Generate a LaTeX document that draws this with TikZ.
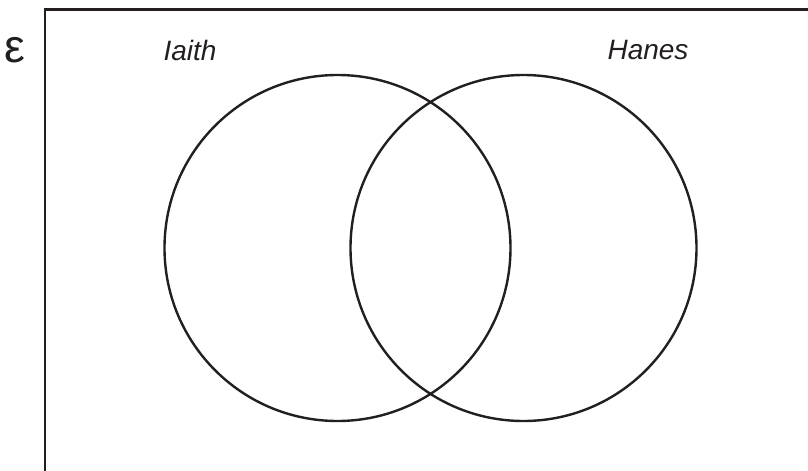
\documentclass[tikz,border=0pt]{standalone}
\usepackage{fontspec}
\setmainfont{Liberation Sans}
\usepackage{tikz}
\usepackage{xcolor}
\definecolor{ink}{HTML}{231F20}

\begin{document}
\begin{tikzpicture}[x=0.75pt,y=-0.75pt]
\useasboundingbox (0,0) rectangle (808,471);
\clip (0,0) rectangle (808,471);
\draw[ink,line width=2pt] (45,9.5) rectangle (815,480);
\node[ink,font=\fontsize{35}{40}\selectfont] (univ) at (15,50) {ε};
\draw[ink,line width=1.8pt] (337.5,248) circle (173);
\draw[ink,line width=1.8pt] (523.5,248) circle (173);
\node[ink,font=\fontsize{21}{25}\selectfont\itshape] (iaith) at (190,50) {Iaith};
\node[ink,font=\fontsize{21}{25}\selectfont\itshape] (hanes) at (648,50) {Hanes};
\end{tikzpicture}
\end{document}
